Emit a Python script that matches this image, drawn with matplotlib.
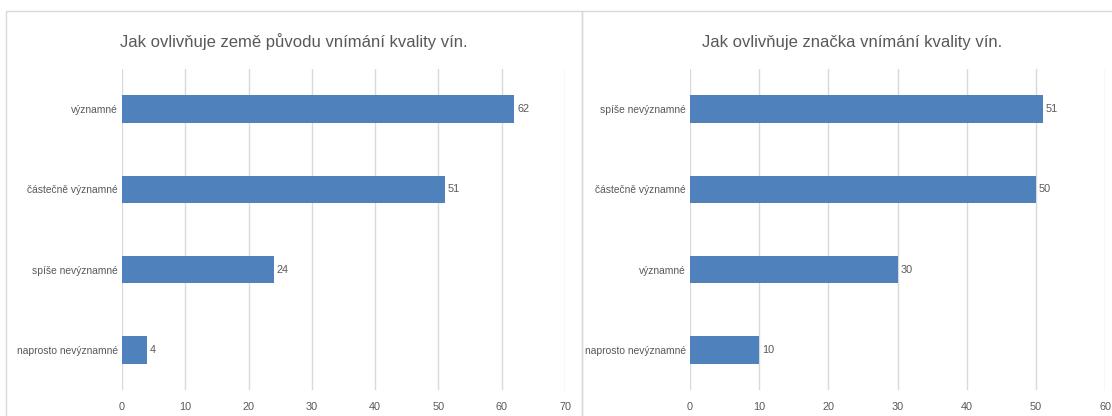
import matplotlib.pyplot as plt
from matplotlib import font_manager
from matplotlib.patches import Rectangle

# data (top to bottom)
cats_puvod = ["významné", "částečně významné", "spíše nevýznamné", "naprosto nevýznamné"]
vals_puvod = [62, 51, 24, 4]
cats_znacka = ["spíše nevýznamné", "částečně významné", "významné", "naprosto nevýznamné"]
vals_znacka = [51, 50, 30, 10]
title_puvod = "Jak ovlivňuje země původu vnímání kvality vín."
title_znacka = "Jak ovlivňuje značka vnímání kvality vín."

names = {f.name for f in font_manager.fontManager.ttflist}
narrow = 'Liberation Sans Narrow' in names
plt.rcParams['font.family'] = ['Liberation Sans Narrow' if narrow else 'Liberation Sans', 'DejaVu Sans']
# sizes: narrow face vs regular face (regular must be smaller to keep widths)
fs_title = 14 if narrow else 12
fs_lab = 9.5 if narrow else 7.4

bar_col = '#4f81bd'
txt_col = '#595959'
grid_col = '#d9d9d9'

W, H = 1112, 416
fig = plt.figure(figsize=(W / 100, H / 100), dpi=100)

# panel borders
fig.patches.append(Rectangle((6 / W, -0.1), (582 - 6) / W, 1.1 - 11 / H,
                             transform=fig.transFigure, fill=False,
                             edgecolor=grid_col, linewidth=1))
fig.patches.append(Rectangle((582 / W, -0.1), 0.6, 1.1 - 11 / H,
                             transform=fig.transFigure, fill=False,
                             edgecolor=grid_col, linewidth=1))


def draw(rect, cats, vals, xmax, title, tcx):
    ax = fig.add_axes(rect)
    y = list(range(len(cats)))
    ax.barh(y, vals, height=0.34, color=bar_col, zorder=2)
    for yi, v in zip(y, vals):
        ax.annotate(str(v), (v, yi), xytext=(2, 0), textcoords='offset points',
                    ha='left', va='center', fontsize=fs_lab + 0.4, color=txt_col)
    ax.set_ylim(len(cats) - 0.5, -0.5)
    ax.set_xlim(0, xmax)
    ax.set_xticks(range(0, xmax + 1, 10))
    ax.set_yticks(y)
    ax.set_yticklabels(cats)
    ax.grid(axis='x', color=grid_col, linewidth=1, zorder=0)
    ax.set_axisbelow(True)
    for s in ax.spines.values():
        s.set_visible(False)
    ax.tick_params(axis='both', length=0, labelsize=fs_lab, labelcolor=txt_col)
    ax.tick_params(axis='x', pad=9, labelsize=fs_lab + 0.4)
    ax.tick_params(axis='y', pad=3)
    fig.text(tcx / W, 1 - 42 / H, title, ha='center', va='center',
             fontsize=fs_title, color=txt_col)
    return ax


draw([122 / W, 1 - 390 / H, (565 - 122) / W, (390 - 69) / H],
     cats_puvod, vals_puvod, 70, title_puvod, 294)
draw([690 / W, 1 - 390 / H, (1105 - 690) / W, (390 - 69) / H],
     cats_znacka, vals_znacka, 60, title_znacka, 852)

fig.savefig('out.png', dpi=100)
